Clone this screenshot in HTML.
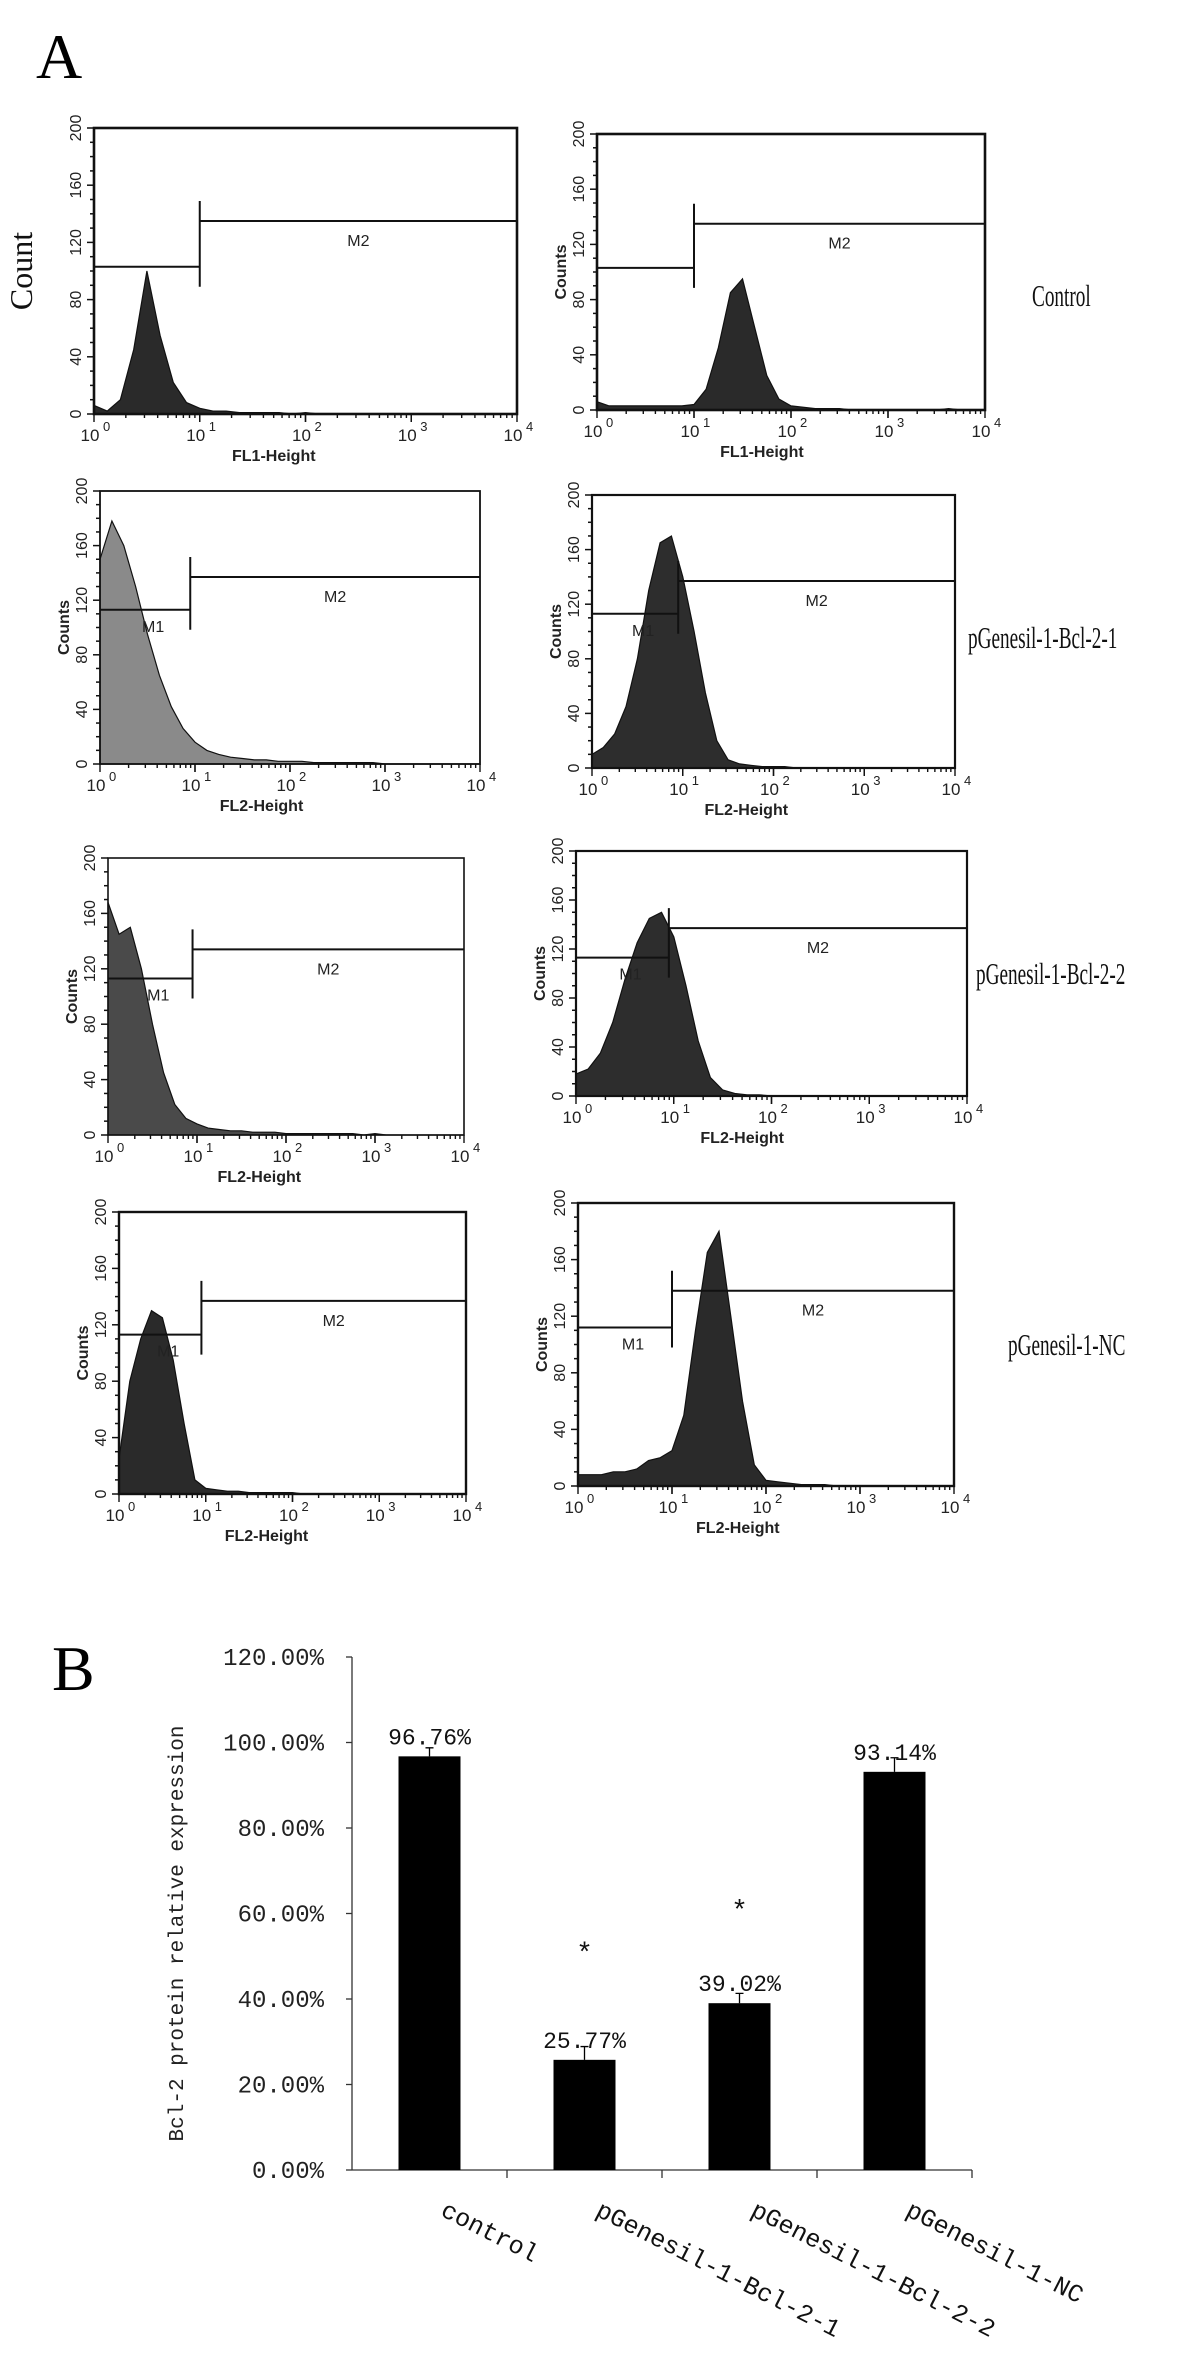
<!DOCTYPE html>
<html><head><meta charset="utf-8"><style>
html,body{margin:0;padding:0;background:#fff;}
svg{display:block;}
</style></head><body>
<svg id="fig" width="1202" height="2361" viewBox="0 0 1202 2361" xmlns="http://www.w3.org/2000/svg">
<rect width="1202" height="2361" fill="#fff"/>
<text x="36" y="78" font-family="Liberation Serif, serif" font-size="64">A</text>
<text x="52" y="1690" font-family="Liberation Serif, serif" font-size="64">B</text>
<g id="hists"></g>
<g id="bars"></g>
</svg>
<script>
// ---------- Part A data (counts per bin, bins of 1/8 decade from 10^0) ----------
const hist1=[6,2,10,45,100,55,22,8,4,2,2,1,1,1,1,0,1,0,0,0,0,0,0,0,0,0,0,0,0,0,0,0,0];
const hist2=[6,3,3,3,3,3,3,3,4,15,45,85,95,60,25,8,3,2,1,1,1,0,0,0,0,0,0,0,0,1,0,0,0];
const hist3=[150,178,160,130,95,65,42,26,16,10,7,5,4,3,3,2,2,2,1,1,1,1,1,1,0,0,0,0,0,0,0,0,0];
const hist4=[10,15,25,45,80,130,165,170,140,100,55,20,6,3,2,1,1,1,0,0,0,0,0,0,0,0,0,0,0,0,0,0,0];
const hist5=[168,145,150,120,80,45,22,12,8,5,4,3,3,2,2,2,1,1,1,1,1,1,1,0,1,0,0,0,0,0,0,0,0];
const hist6=[18,22,35,60,95,125,145,150,130,90,45,15,5,2,1,1,0,0,0,0,0,0,0,0,0,0,0,0,0,0,0,0,0];
const hist7=[25,80,110,130,125,95,50,10,4,3,2,2,1,1,1,1,1,0,0,0,0,0,0,0,0,0,0,0,0,0,0,0,0];
const hist8=[8,8,8,10,10,12,18,20,25,50,110,165,180,120,60,15,4,3,2,1,1,1,0,0,0,0,0,0,0,0,0,0,0];
const histograms=[hist1,hist2,hist3,hist4,hist5,hist6,hist7,hist8];
const gateM1Counts=[103,103,113,113,113,113,113,112];
const gateM2Counts=[135,135,137,137,134,137,137,138];
const gateSplitLog=[1.0,1.0,0.95,0.95,0.95,0.95,0.95,1.0];
const yTickLabels=["0","40","80","120","160","200"];
const xTickExps=["0","1","2","3","4"];
const rowLabels=["Control","pGenesil-1-Bcl-2-1","pGenesil-1-Bcl-2-2","pGenesil-1-NC"];

// ---------- Part B data ----------
const categories=["control","pGenesil-1-Bcl-2-1","pGenesil-1-Bcl-2-2","pGenesil-1-NC"];
const values=[96.76,25.77,39.02,93.14];
const errors=[2.0,3.1,2.3,3.3];
const valueLabels=["96.76%","25.77%","39.02%","93.14%"];
const starHeights=[null,52,62,null];
const bTicks=[0,20,40,60,80,100,120];
const bTickLabels=["0.00%","20.00%","40.00%","60.00%","80.00%","100.00%","120.00%"];

const NS="http://www.w3.org/2000/svg";
function mk(tag,attrs,parent){const e=document.createElementNS(NS,tag);for(const k in attrs)e.setAttribute(k,attrs[k]);parent.appendChild(e);return e;}

const frames=[
 {x0:94,y0:128,x1:517,y1:414,fill:"#2a2a2a",lw:2.6,xl:"FL1-Height",m1:false,big:true},
 {x0:597,y0:134,x1:985,y1:410,fill:"#2a2a2a",lw:2.6,xl:"FL1-Height",m1:false},
 {x0:100,y0:491,x1:480,y1:764,fill:"#8a8a8a",lw:1.8,xl:"FL2-Height",m1:true},
 {x0:592,y0:495,x1:955,y1:768,fill:"#2d2d2d",lw:2.2,xl:"FL2-Height",m1:true},
 {x0:108,y0:858,x1:464,y1:1135,fill:"#4a4a4a",lw:1.6,xl:"FL2-Height",m1:true},
 {x0:576,y0:851,x1:967,y1:1096,fill:"#2d2d2d",lw:2.2,xl:"FL2-Height",m1:true},
 {x0:119,y0:1212,x1:466,y1:1494,fill:"#2a2a2a",lw:2.4,xl:"FL2-Height",m1:true},
 {x0:578,y0:1203,x1:954,y1:1486,fill:"#2a2a2a",lw:2.4,xl:"FL2-Height",m1:true}
];
const rowLabelPos=[[1032,296],[968,638],[976,974],[1008,1345]];

const H=document.getElementById('hists');
frames.forEach((f,i)=>{
  const g=mk('g',{},H);
  
  
  const xs=l=>f.x0+(f.x1-f.x0)*l/4;
  const ys=c=>f.y1-(f.y1-f.y0)*c/200;
  // histogram fill
  const h=histograms[i];
  let d="M"+xs(0)+","+ys(0);
  h.forEach((c,k)=>{d+=" L"+xs(k/8).toFixed(1)+","+ys(c).toFixed(1);});
  d+=" L"+xs(4)+","+ys(0)+" Z";
  const p=mk('path',{d:d,fill:f.fill,stroke:"#111","stroke-width":1.2},g);
  
  
  // frame
  const r=mk('rect',{x:f.x0,y:f.y0,width:f.x1-f.x0,height:f.y1-f.y0,fill:"none",stroke:"#111","stroke-width":f.lw},g);
  
  
  // y ticks
  for(let c=0;c<=200;c+=10){mk('line',{x1:f.x0-(c%40==0?7:4),x2:f.x0,y1:ys(c),y2:ys(c),stroke:"#111","stroke-width":1.5},g);}
  yTickLabels.forEach((t,k)=>{
    const yy=ys(k*40);
    const tx=mk('text',{x:0,y:0,transform:`translate(${f.x0-13},${yy}) rotate(-90)`,"text-anchor":"middle","font-family":"Liberation Sans, sans-serif","font-size":16,fill:"#222"},g);
    tx.textContent=t;
    
    
  });
  // x ticks (log minor)
  for(let dec=0;dec<4;dec++){for(let m=1;m<=10;m++){const l=dec+Math.log10(m);mk('line',{x1:xs(l),x2:xs(l),y1:f.y1,y2:f.y1+(m==1||m==10?8:4),stroke:"#111","stroke-width":1.4},g);}}
  xTickExps.forEach((e,k)=>{
    const tx=mk('text',{x:xs(k)-4,y:f.y1+27,"text-anchor":"middle","font-family":"Liberation Sans, sans-serif","font-size":17,fill:"#222"},g);
    tx.textContent="10";
    
    
    const sp=mk('text',{x:xs(k)+9,y:f.y1+17,"font-family":"Liberation Sans, sans-serif","font-size":13,fill:"#222"},g);
    sp.textContent=e;
  });
  const xl=mk('text',{x:xs(1.7),y:f.y1+47,"text-anchor":"middle","font-family":"Liberation Sans, sans-serif","font-size":16,"font-weight":"bold",fill:"#222"},g);
  xl.textContent=f.xl;
  
  
  // y title
  if(f.big){
    const yt=mk('text',{transform:`translate(${f.x0-62},${ys(100)}) rotate(-90)`,"text-anchor":"middle","font-family":"Liberation Serif, serif","font-size":32,fill:"#111"},g);
    yt.textContent="Count";
    
    
  } else {
    const yt=mk('text',{transform:`translate(${f.x0-31},${ys(100)}) rotate(-90)`,"text-anchor":"middle","font-family":"Liberation Sans, sans-serif","font-size":16,"font-weight":"bold",fill:"#222"},g);
    yt.textContent="Counts";
    
    
  }
  // gates
  const sx=xs(gateSplitLog[i]);
  const y1g=ys(gateM1Counts[i]), y2g=ys(gateM2Counts[i]);
  const gl=mk('path',{d:`M${f.x0},${y1g} L${sx},${y1g} M${sx},${y1g+20} L${sx},${y2g-20} M${sx},${y2g} L${f.x1},${y2g}`,stroke:"#111","stroke-width":2,fill:"none"},g);
  
  
  const m2=mk('text',{x:(sx+f.x1)/2,y:y2g+25,"text-anchor":"middle","font-family":"Liberation Sans, sans-serif","font-size":16,fill:"#222"},g);
  m2.textContent="M2";
  
  
  if(f.m1){
    const m1=mk('text',{x:(f.x0+sx)/2+8,y:y1g+22,"text-anchor":"middle","font-family":"Liberation Sans, sans-serif","font-size":16,fill:"#222"},g);
    m1.textContent="M1";
    
    
  }
});
rowLabels.forEach((t,k)=>{
  const [x,y]=rowLabelPos[k];
  const tx=mk('text',{transform:`translate(${x},${y+10}) scale(0.62,1)`,"font-family":"Liberation Serif, serif","font-size":31,fill:"#111"},H);
  tx.textContent=t;
  
  
});

// ---------- Part B ----------
const B=document.getElementById('bars');
const ax0=352, ax1=972, ay0=2170, pxPerPct=427.5/100;
const yB=v=>ay0-v*pxPerPct;
const band=(ax1-ax0)/categories.length;
const xc=i=>ax0+band*(i+0.5);
const mono="Liberation Mono, monospace";
const yAxis=mk('line',{x1:ax0,x2:ax0,y1:yB(120),y2:ay0,stroke:"#333","stroke-width":1.3},B);


const xAxis=mk('line',{x1:ax0,x2:ax1,y1:ay0,y2:ay0,stroke:"#333","stroke-width":1.3},B);


bTicks.forEach((v,k)=>{
  mk('line',{x1:ax0-6,x2:ax0,y1:yB(v),y2:yB(v),stroke:"#333","stroke-width":1.3},B);
  const t=mk('text',{x:ax0-28,y:yB(v)+8,"text-anchor":"end","font-family":mono,"font-size":24,fill:"#222"},B);
  t.textContent=bTickLabels[k];
  
  
});
for(let i=1;i<=categories.length;i++){mk('line',{x1:ax0+band*i,x2:ax0+band*i,y1:ay0,y2:ay0+8,stroke:"#333","stroke-width":1.3},B);}
const yt=mk('text',{transform:`translate(183,${(yB(120)+ay0)/2+20}) rotate(-90)`,"text-anchor":"middle","font-family":mono,"font-size":21,fill:"#222"},B);
yt.textContent="Bcl-2 protein relative expression";


const bw=62;
values.forEach((v,i)=>{
  const r=mk('rect',{x:xc(i)-bw/2,y:yB(v),width:bw,height:ay0-yB(v),fill:"#000"},B);
  
  
  const e=mk('path',{d:`M${xc(i)},${yB(v)} L${xc(i)},${yB(v+errors[i])} M${xc(i)-4},${yB(v+errors[i])} L${xc(i)+4},${yB(v+errors[i])}`,stroke:"#000","stroke-width":1.3},B);
  
  
  const t=mk('text',{x:xc(i),y:yB(v)-12,"text-anchor":"middle","font-family":mono,"font-size":23,fill:"#111"},B);
  t.textContent=valueLabels[i];
  
  
  if(starHeights[i]!==null){
    const s=mk('text',{x:xc(i),y:yB(starHeights[i])+14,"text-anchor":"middle","font-family":mono,"font-size":28,fill:"#111"},B);
    s.textContent="*";
    
    
  }
  const c=mk('text',{transform:`translate(${xc(i)+10},${ay0+45}) rotate(27)`,"font-family":mono,"font-size":25,fill:"#111"},B);
  c.textContent=categories[i];
  
  
});
</script>
</body></html>
